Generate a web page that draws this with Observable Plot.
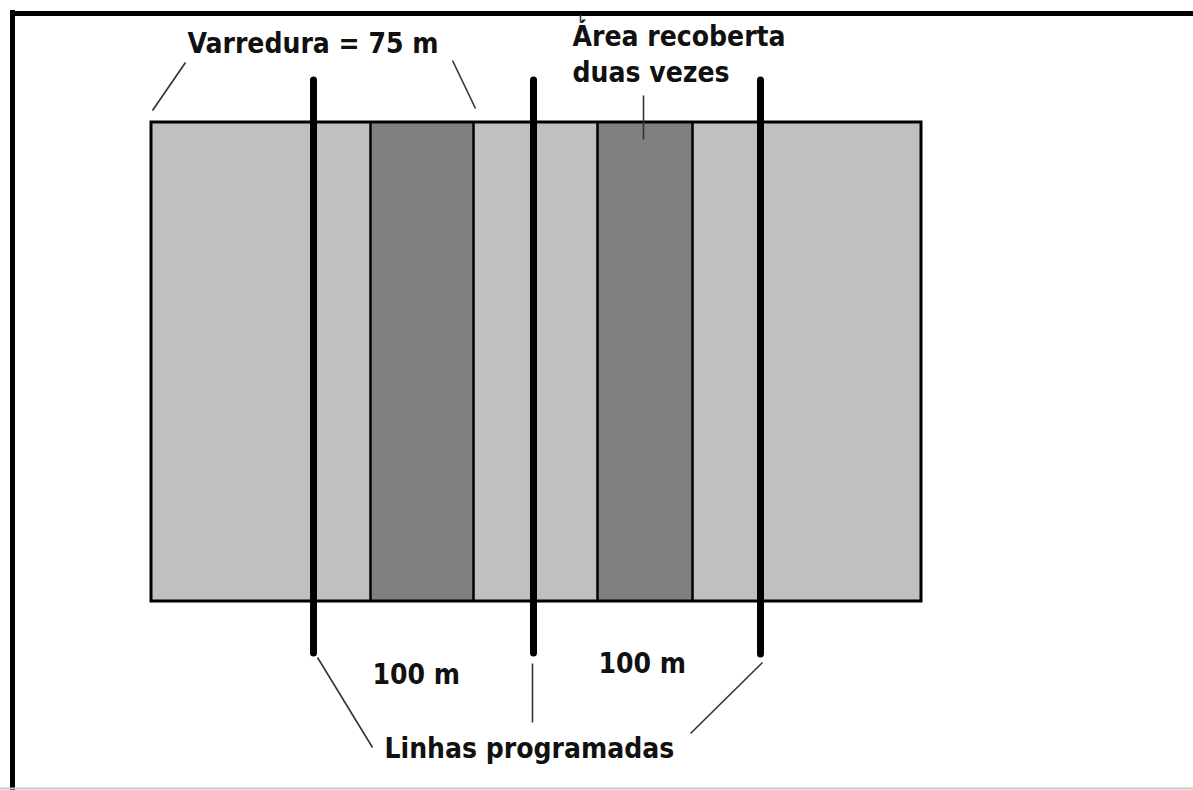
<!DOCTYPE html>
<html>
<head>
<meta charset="utf-8">
<script src="https://cdn.jsdelivr.net/npm/d3@7"></script>
<script src="https://cdn.jsdelivr.net/npm/@observablehq/plot@0.6"></script>
<style>
  html, body { margin: 0; padding: 0; background: #fff; }
  #chart svg { display: block; }
</style>
</head>
<body>
<div id="chart"></div>
<script>
// Diagram coordinates (pixel-like units of the drawing plane, y downward)
const areaTop = 122;
const areaBottom = 601;

// Coverage bands across the surveyed area
const bandX1 = [151, 370, 473, 597, 692];
const bandX2 = [370, 473, 597, 692, 921];
const bandCover = ["single", "double", "single", "double", "single"];

// Band dividers (edges of swaths)
const dividerX = [370, 473, 597, 692];

// Programmed flight lines
const flightLineX = [313, 533, 760];
const flightLineTop = [80, 80, 80];
const flightLineBottom = [653, 653, 654];

// Leader lines for annotations
const leaderX1 = [152, 475, 643, 580, 317, 532, 762];
const leaderY1 = [110, 108, 139, 14, 657, 663, 662];
const leaderX2 = [185, 452, 643, 580, 372, 532, 690];
const leaderY2 = [62, 60, 95, 22, 747, 722, 733];

// Labels
const labelText = ["Varredura = 75 m", "Área recoberta", "duas vezes", "100 m", "100 m", "Linhas programadas"];
const labelX = [187, 572, 572, 372, 598, 384];
const labelY = [52, 45, 81, 683, 672, 757];

const bands = bandX1.map((x1, i) => ({x1, x2: bandX2[i], cover: bandCover[i]}));
const lines = flightLineX.map((x, i) => ({x, y1: flightLineTop[i], y2: flightLineBottom[i]}));
const leaders = leaderX1.map((x1, i) => ({x1, y1: leaderY1[i], x2: leaderX2[i], y2: leaderY2[i]}));
const labels = labelText.map((text, i) => ({text, x: labelX[i], y: labelY[i]}));

const W = 1193, H = 790;
const font = "'DejaVu Sans Condensed', 'DejaVu Sans', sans-serif";

const chart = Plot.plot({
  width: W,
  height: H,
  margin: 0,
  x: {domain: [0, W], range: [0, W], axis: null},
  y: {domain: [0, H], range: [0, H], axis: null},
  color: {domain: ["single", "double"], range: ["#c0c0c0", "#808080"]},
  style: {background: "#fff", overflow: "visible"},
  marks: [
    // outer frame
    Plot.ruleX([12], {y1: 10, y2: H, stroke: "#000", strokeWidth: 5}),
    Plot.ruleY([13], {x1: 10, x2: W, stroke: "#000", strokeWidth: 5}),
    Plot.ruleY([788], {x1: 0, x2: W, stroke: "#c8c8c8", strokeWidth: 2}),
    // coverage bands
    Plot.rect(bands, {x1: "x1", x2: "x2", y1: areaTop, y2: areaBottom, fill: "cover", inset: 0}),
    Plot.ruleX(dividerX, {y1: areaTop, y2: areaBottom, stroke: "#000", strokeWidth: 2.5}),
    Plot.rect([{x1: bandX1[0], x2: bandX2[bandX2.length - 1]}], {x1: "x1", x2: "x2", y1: areaTop, y2: areaBottom, fill: "none", stroke: "#000", strokeWidth: 3, inset: 0}),
    // flight lines
    Plot.ruleX(lines, {x: "x", y1: "y1", y2: "y2", stroke: "#000", strokeWidth: 7, strokeLinecap: "round"}),
    // leaders
    Plot.link(leaders, {x1: "x1", y1: "y1", x2: "x2", y2: "y2", stroke: "#333", strokeWidth: 1.6}),
    // labels
    Plot.text(labels, {x: "x", y: "y", text: "text", textAnchor: "start", lineAnchor: "bottom",
      fontSize: 28, fontWeight: "bold", fontFamily: font, fill: "#111"})
  ]
});
document.getElementById("chart").appendChild(chart);
</script>
</body>
</html>
